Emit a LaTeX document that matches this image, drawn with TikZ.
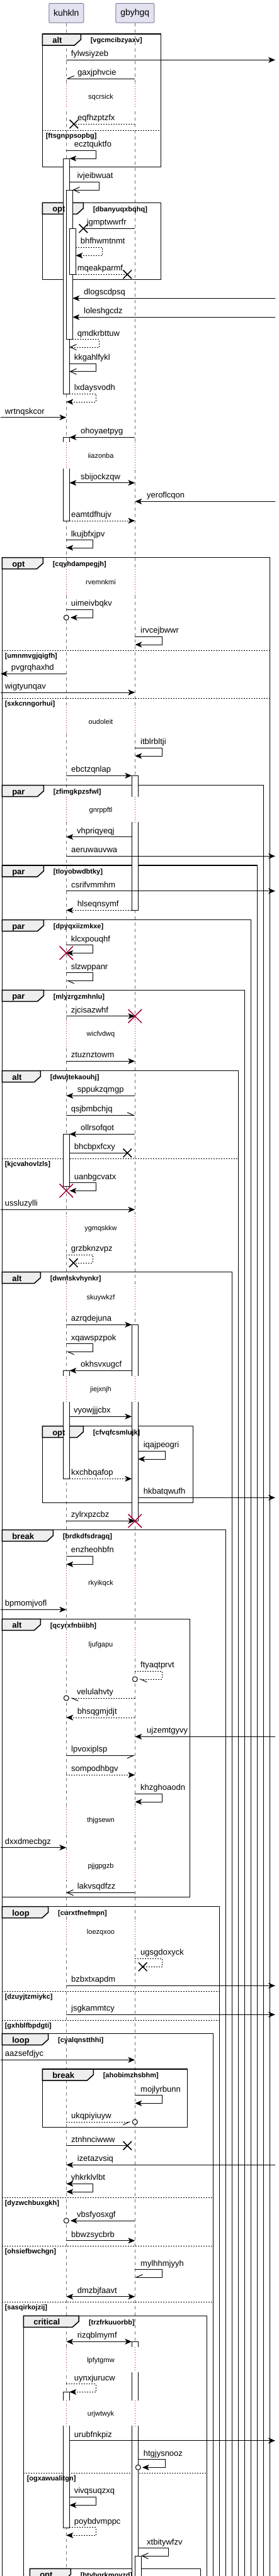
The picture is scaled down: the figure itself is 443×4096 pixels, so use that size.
\documentclass[tikz,border=0pt]{standalone}
\usepackage{fontspec}
\setmainfont{Liberation Sans}
\usetikzlibrary{arrows.meta,shapes.misc}
\definecolor{partfill}{HTML}{E2E2F0}
\definecolor{partline}{HTML}{7C7C94}
\definecolor{lifegray}{HTML}{707070}
\definecolor{delayred}{HTML}{A80036}
\definecolor{tabgray}{HTML}{EEEEEE}
\begin{document}
\begin{tikzpicture}[
        x=1pt, y=-1pt, line width=1pt,
        part/.style={rectangle, draw=partline, fill=partfill, rounded corners=2pt, minimum height=30.7pt, inner sep=0pt, font=\fontsize{14}{16}\selectfont},
        life/.style={draw=lifegray, dash pattern=on 5pt off 5pt},
        act/.style={draw, fill=white},
        delayline/.style={draw=delayred, dash pattern=on 1pt off 3pt, preaction={draw=white, solid, line width=12pt}},
        frm/.style={draw, line width=1.5pt},
        tabshape/.style={draw, fill=tabgray, line width=1.5pt},
        els/.style={dash pattern=on 2pt off 2pt},
        kw/.style={font=\bfseries\fontsize{13}{15}\selectfont, anchor=base west, inner sep=0pt},
        grd/.style={font=\bfseries\fontsize{11}{13}\selectfont, anchor=base west, inner sep=0pt},
        lbl/.style={font=\fontsize{13}{15}\selectfont, anchor=base west, inner sep=0pt},
        dly/.style={font=\fontsize{11}{13}\selectfont, inner sep=0pt},
        sync/.style={-{Stealth[length=11pt, width=9pt, inset=3pt]}},
        twoway/.style={{Stealth[length=11pt, width=9pt, inset=3pt]}-{Stealth[length=11pt, width=9pt, inset=3pt]}},
        opn/.style={-{Straight Barb[length=10pt, width=9pt]}},
        halfleft/.style={-{Straight Barb[left, length=10pt, width=9pt]}},
        halfright/.style={-{Straight Barb[right, length=10pt, width=9pt]}},
        ret/.style={dash pattern=on 2pt off 2pt},
        lost/.style={cross out, draw, minimum size=12pt, inner sep=0pt, line width=1.5pt},
        kill/.style={cross out, draw=delayred, minimum size=20pt, inner sep=0pt, line width=1.5pt},
        endo/.style={circle, draw, fill=white, minimum size=8pt, inner sep=0pt}
    ]
        \useasboundingbox (0,0) rectangle (443,4096);
        \clip (0,0) rectangle (443,4096);

        % Participants
        \node[part, minimum width=55pt] (kuhkln) at (105.3,20.7) {kuhkln};
        \node[part, minimum width=61pt] (gbyhgq) at (214.3,20.7) {gbyhgq};
        \coordinate (K) at (105.3,0);
        \coordinate (Ka) at (110.3,0);
        \coordinate (Kb) at (115.3,0);
        \coordinate (Kc) at (120.3,0);
        \coordinate (G) at (214.3,0);
        \coordinate (Ga) at (209.3,0);
        \coordinate (Gb) at (219.3,0);
        \coordinate (Gc) at (224.3,0);
        \coordinate (L) at (1,0);
        \coordinate (R) at (437,0);

        % Lifelines
        \draw[life] (kuhkln.south) -- (kuhkln.south |- 0,4096);
        \draw[life] (gbyhgq.south) -- (gbyhgq.south |- 0,4096);

        % Frames
        \draw[frm] (67.3,54) rectangle (255.7,265.7);
        \draw[tabshape] (67.3,54) -- (128.3,54) -- (128.3,63) -- (118.3,72) -- (67.3,72) -- cycle;
        \draw[els] (67.3,207) -- (255.7,207);
        \draw[frm] (67.3,322.3) rectangle (255.7,444.7);
        \draw[tabshape] (67.3,322.3) -- (132.3,322.3) -- (132.3,331.3) -- (122.3,340.3) -- (67.3,340.3) -- cycle;
        \draw[frm] (3.3,886.7) rectangle (428.3,4120);
        \draw[tabshape] (3.3,886.7) -- (68.3,886.7) -- (68.3,895.7) -- (58.3,904.7) -- (3.3,904.7) -- cycle;
        \draw[els] (3.3,1034.3) -- (428.3,1034.3);
        \draw[els] (3.3,1110) -- (428.3,1110);
        \draw[frm] (3.3,1248.7) rectangle (418.3,4120);
        \draw[tabshape] (3.3,1248.7) -- (69.3,1248.7) -- (69.3,1257.7) -- (59.3,1266.7) -- (3.3,1266.7) -- cycle;
        \draw[frm] (3.3,1376) rectangle (408.3,4120);
        \draw[tabshape] (3.3,1376) -- (69.3,1376) -- (69.3,1385) -- (59.3,1394) -- (3.3,1394) -- cycle;
        \draw[frm] (3.3,1462.7) rectangle (398.3,4120);
        \draw[tabshape] (3.3,1462.7) -- (69.3,1462.7) -- (69.3,1471.7) -- (59.3,1480.7) -- (3.3,1480.7) -- cycle;
        \draw[frm] (3.3,1574.3) rectangle (388.3,4120);
        \draw[tabshape] (3.3,1574.3) -- (69.3,1574.3) -- (69.3,1583.3) -- (59.3,1592.3) -- (3.3,1592.3) -- cycle;
        \draw[frm] (3.3,1702.7) rectangle (378.3,4120);
        \draw[tabshape] (3.3,1702.7) -- (64.3,1702.7) -- (64.3,1711.7) -- (54.3,1720.7) -- (3.3,1720.7) -- cycle;
        \draw[els] (3.3,1842.3) -- (378.3,1842.3);
        \draw[frm] (3.3,2022.7) rectangle (368.3,4120);
        \draw[tabshape] (3.3,2022.7) -- (64.3,2022.7) -- (64.3,2031.7) -- (54.3,2040.7) -- (3.3,2040.7) -- cycle;
        \draw[frm] (67.3,2267.7) rectangle (306.7,2389.3);
        \draw[tabshape] (67.3,2267.7) -- (132.3,2267.7) -- (132.3,2276.7) -- (122.3,2285.7) -- (67.3,2285.7) -- cycle;
        \draw[frm] (3.3,2432.7) rectangle (358.3,4120);
        \draw[tabshape] (3.3,2432.7) -- (84.3,2432.7) -- (84.3,2441.7) -- (74.3,2450.7) -- (3.3,2450.7) -- cycle;
        \draw[frm] (3.3,2574.3) rectangle (301.7,3016.7);
        \draw[tabshape] (3.3,2574.3) -- (64.3,2574.3) -- (64.3,2583.3) -- (54.3,2592.3) -- (3.3,2592.3) -- cycle;
        \draw[frm] (3.3,3031.7) rectangle (348.3,4120);
        \draw[tabshape] (3.3,3031.7) -- (76.7,3031.7) -- (76.7,3040.7) -- (66.7,3049.7) -- (3.3,3049.7) -- cycle;
        \draw[els] (3.3,3166.3) -- (348.3,3166.3);
        \draw[els] (3.3,3212.3) -- (348.3,3212.3);
        \draw[frm] (3.3,3233.7) rectangle (338.3,4120);
        \draw[tabshape] (3.3,3233.7) -- (76.7,3233.7) -- (76.7,3242.7) -- (66.7,3251.7) -- (3.3,3251.7) -- cycle;
        \draw[frm] (67.3,3290) rectangle (297.7,3382.3);
        \draw[tabshape] (67.3,3290) -- (148.3,3290) -- (148.3,3299) -- (138.3,3308) -- (67.3,3308) -- cycle;
        \draw[els] (3.3,3494.3) -- (338.3,3494.3);
        \draw[els] (3.3,3571.3) -- (338.3,3571.3);
        \draw[els] (3.3,3660.3) -- (338.3,3660.3);
        \draw[frm] (37.3,3682.3) rectangle (328.3,4120);
        \draw[tabshape] (37.3,3682.3) -- (125,3682.3) -- (125,3691.3) -- (115,3700.3) -- (37.3,3700.3) -- cycle;
        \draw[els] (37.3,3932.3) -- (328.3,3932.3);
        \draw[frm] (47.3,4084.3) rectangle (318.3,4120);
        \draw[tabshape] (47.3,4084.3) -- (112.3,4084.3) -- (112.3,4093.3) -- (102.3,4102.3) -- (47.3,4102.3) -- cycle;

        % Activations
        \draw[act] (100.3,252) rectangle (110.3,626.7);
        \draw[act] (105.3,302) rectangle (115.3,539.7);
        \draw[act] (110.3,363.3) rectangle (120.3,436.3);
        \draw[act] (100.3,695.3) rectangle (110.3,828);
        \draw[act] (209.3,1233.3) rectangle (219.3,1447.3);
        \draw[act] (100.3,1803.3) rectangle (110.3,1886.7);
        \draw[act] (209.3,2106.3) rectangle (219.3,2418.3);
        \draw[act] (100.3,2179.3) rectangle (110.3,2351.3);
        \draw[act] (209.3,3723.3) rectangle (219.3,4120);
        \draw[act] (100.3,3803.3) rectangle (110.3,4019.3);
        \draw[act] (214.3,4064) rectangle (224.3,4120);

        % Delays
        \draw[delayline] (K |- 0,133) -- (K |- 0,173) (G |- 0,133) -- (G |- 0,173);
        \node[dly] (sqcrsick) at (160,155) {sqcrsick};
        \draw[delayline] (K |- 0,703) -- (K |- 0,745) (G |- 0,703) -- (G |- 0,745);
        \node[dly] (iiazonba) at (160,725) {iiazonba};
        \draw[delayline] (K |- 0,905) -- (K |- 0,946.7) (G |- 0,905) -- (G |- 0,946.7);
        \node[dly] (rvemnkmi) at (160,926) {rvemnkmi};
        \draw[delayline] (K |- 0,1125) -- (K |- 0,1166.7) (G |- 0,1125) -- (G |- 0,1166.7);
        \node[dly] (oudoleit) at (160,1147.3) {oudoleit};
        \draw[delayline] (K |- 0,1266.7) -- (K |- 0,1307.3) (G |- 0,1266.7) -- (G |- 0,1307.3);
        \node[dly] (gnrppftl) at (160,1288.3) {gnrppftl};
        \draw[delayline] (K |- 0,1623) -- (K |- 0,1665) (G |- 0,1623) -- (G |- 0,1665);
        \node[dly] (wicfvdwq) at (160,1644.3) {wicfvdwq};
        \draw[delayline] (K |- 0,1930) -- (K |- 0,1976.7) (G |- 0,1930) -- (G |- 0,1976.7);
        \node[dly] (ygmqskkw) at (160,1953.3) {ygmqskkw};
        \draw[delayline] (K |- 0,2041) -- (K |- 0,2083.3) (G |- 0,2041) -- (G |- 0,2083.3);
        \node[dly] (skuywkzf) at (160,2063.3) {skuywkzf};
        \draw[delayline] (K |- 0,2187.7) -- (K |- 0,2229.3) (G |- 0,2187.7) -- (G |- 0,2229.3);
        \node[dly] (jiejxnjh) at (160,2209.3) {jiejxnjh};
        \draw[delayline] (K |- 0,2493) -- (K |- 0,2540) (G |- 0,2493) -- (G |- 0,2540);
        \node[dly] (rkyikqck) at (160,2517.3) {rkyikqck};
        \draw[delayline] (K |- 0,2595) -- (K |- 0,2635) (G |- 0,2595) -- (G |- 0,2635);
        \node[dly] (ljufgapu) at (160,2615.3) {ljufgapu};
        \draw[delayline] (K |- 0,2873) -- (K |- 0,2916.7) (G |- 0,2873) -- (G |- 0,2916.7);
        \node[dly] (thjgsewn) at (160,2895) {thjgsewn};
        \draw[delayline] (K |- 0,2945) -- (K |- 0,2990) (G |- 0,2945) -- (G |- 0,2990);
        \node[dly] (pjjgpgzb) at (160,2967.3) {pjjgpgzb};
        \draw[delayline] (K |- 0,3051) -- (K |- 0,3090) (G |- 0,3051) -- (G |- 0,3090);
        \node[dly] (loezqxoo) at (160,3072.3) {loezqxoo};
        \draw[delayline] (K |- 0,3731.7) -- (K |- 0,3771.7) (G |- 0,3731.7) -- (G |- 0,3771.7);
        \node[dly] (lpfytgmw) at (160,3753.3) {lpfytgmw};
        \draw[delayline] (K |- 0,3816.7) -- (K |- 0,3857.3) (G |- 0,3816.7) -- (G |- 0,3857.3);
        \node[dly] (urjwtwyk) at (160,3838.3) {urjwtwyk};

        % Frame labels
        \node[kw] (alt1) at (82.8,68.3) {alt};
        \node[grd] (vgcmcibzyaxv) at (143.3,67.7) {[vgcmcibzyaxv]};
        \node[grd] (ftsgnppsopbg) at (72.3,219) {[ftsgnppsopbg]};
        \node[kw] (opt1) at (82.8,336.6) {opt};
        \node[grd] (dbanyuqxbqhq) at (147.3,336) {[dbanyuqxbqhq]};
        \node[kw] (opt2) at (18.8,901) {opt};
        \node[grd] (cqyhdampegjh) at (83.3,900.4) {[cqyhdampegjh]};
        \node[grd] (umnmvgjqigfh) at (7.3,1046.3) {[umnmvgjqigfh]};
        \node[grd] (sxkcnngorhui) at (7.3,1122) {[sxkcnngorhui]};
        \node[kw] (par1) at (18.8,1263) {par};
        \node[grd] (zfimgkpzsfwl) at (84.3,1262.4) {[zfimgkpzsfwl]};
        \node[kw] (par2) at (18.8,1390.3) {par};
        \node[grd] (tloyobwdbtky) at (84.3,1389.7) {[tloyobwdbtky]};
        \node[kw] (par3) at (18.8,1477) {par};
        \node[grd] (dpyqxiizmkxe) at (84.3,1476.4) {[dpyqxiizmkxe]};
        \node[kw] (par4) at (18.8,1588.6) {par};
        \node[grd] (mlyzrgzmhnlu) at (84.3,1588) {[mlyzrgzmhnlu]};
        \node[kw] (alt2) at (18.8,1717) {alt};
        \node[grd] (dwujtekaouhj) at (79.3,1716.4) {[dwujtekaouhj]};
        \node[grd] (kjcvahovlzls) at (7.3,1854.3) {[kjcvahovlzls]};
        \node[kw] (alt3) at (18.8,2037) {alt};
        \node[grd] (dwnlskvhynkr) at (79.3,2036.4) {[dwnlskvhynkr]};
        \node[kw] (opt3) at (82.8,2282) {opt};
        \node[grd] (cfvqfcsmlujk) at (147.3,2281.4) {[cfvqfcsmlujk]};
        \node[kw] (break1) at (18.8,2447) {break};
        \node[grd] (brdkdfsdragq) at (99.3,2446.4) {[brdkdfsdragq]};
        \node[kw] (alt4) at (18.8,2588.6) {alt};
        \node[grd] (qcyrxfnbiibh) at (79.3,2588) {[qcyrxfnbiibh]};
        \node[kw] (loop1) at (18.8,3046) {loop};
        \node[grd] (curxtfnefmpn) at (91.7,3045.4) {[curxtfnefmpn]};
        \node[grd] (dzuyjtzmiykc) at (7.3,3178.3) {[dzuyjtzmiykc]};
        \node[grd] (gxhblfbpdgti) at (7.3,3224.3) {[gxhblfbpdgti]};
        \node[kw] (loop2) at (18.8,3248) {loop};
        \node[grd] (cyalqnstthhi) at (91.7,3247.4) {[cyalqnstthhi]};
        \node[kw] (break2) at (82.8,3304.3) {break};
        \node[grd] (ahobimzhsbhm) at (163.3,3303.7) {[ahobimzhsbhm]};
        \node[grd] (dyzwchbuxgkh) at (7.3,3506.3) {[dyzwchbuxgkh]};
        \node[grd] (ohsiefbwchgn) at (7.3,3583.3) {[ohsiefbwchgn]};
        \node[grd] (sasqirkojzij) at (7.3,3672.3) {[sasqirkojzij]};
        \node[kw] (critical1) at (52.8,3696.6) {critical};
        \node[grd] (trzfrkuuorbb) at (140.5,3696) {[trzfrkuuorbb]};
        \node[grd] (ogxawualitgn) at (42.3,3944.3) {[ogxawualitgn]};
        \node[kw] (opt4) at (62.8,4098.6) {opt};
        \node[grd] (btybqrkmoyzd) at (127.3,4098) {[btybqrkmoyzd]};

        % Messages
        \draw[sync] (K |- 0,95.3) -- (R |- 0,95.3);
        \node[lbl] (fylwsiyzeb) at (112.3,89.8) {fylwsiyzeb};
        \draw[halfright] (G |- 0,125) -- (K |- 0,125);
        \node[lbl] (gaxjphvcie) at (122.7,119.5) {gaxjphvcie};
        \node[lost] (x1) at (117.3,197.3) {};
        \draw[ret] (G |- 0,197.3) -- (x1.center);
        \node[lbl] (eqfhzptzfx) at (122.7,191.8) {eqfhzptzfx};
        \draw[sync] (K |- 0,239) -| (152.3,252) -- (Ka |- 0,252);
        \node[lbl] (ecztquktfo) at (117.3,233.5) {ecztquktfo};
        \draw[opn] (Ka |- 0,289.3) -| (157.3,302) -- (Kb |- 0,302);
        \node[lbl] (ivjeibwuat) at (122,283.8) {ivjeibwuat};
        \node[lost] (x2) at (132.3,363.3) {};
        \draw (G |- 0,363.3) -- (x2.center);
        \node[lbl] (jgmptwwrfr) at (137.3,357.8) {jgmptwwrfr};
        \draw[sync, ret] (Kc |- 0,393.3) -| (162.7,406.3) -- (Kc |- 0,406.3);
        \node[lbl] (bhfhwmtnmt) at (127.3,387.8) {bhfhwmtnmt};
        \node[lost] (x3) at (202.3,436.3) {};
        \draw[ret] (Kc |- 0,436.3) -- (x3.center);
        \node[lbl] (mqeakparmf) at (122.3,430.8) {mqeakparmf};
        \draw[sync] (R |- 0,474.3) -- (Kb |- 0,474.3);
        \node[lbl] (dlogscdpsq) at (132.7,468.8) {dlogscdpsq};
        \draw[sync] (R |- 0,504.3) -- (Kb |- 0,504.3);
        \node[lbl] (loleshgcdz) at (132.7,498.8) {loleshgcdz};
        \draw[opn, ret] (Kb |- 0,539.7) -| (157.3,552) -- (Ka |- 0,552);
        \node[lbl] (qmdkrbttuw) at (122.3,534.2) {qmdkrbttuw};
        \draw[opn] (Ka |- 0,578.3) -| (152.3,590.7) -- (Ka |- 0,590.7);
        \node[lbl] (kkgahlfykl) at (117.3,572.8) {kkgahlfykl};
        \draw[sync, ret] (Ka |- 0,626) -| (152.3,639) -- (K |- 0,639);
        \node[lbl] (lxdaysvodh) at (117.3,620.5) {lxdaysvodh};
        \draw[sync] (L |- 0,663.7) -- (K |- 0,663.7);
        \node[lbl] (wrtnqskcor) at (7.3,658.2) {wrtnqskcor};
        \draw[sync] (G |- 0,695.3) -- (Ka |- 0,695.3);
        \node[lbl] (ohoyaetpyg) at (127.7,689.8) {ohoyaetpyg};
        \draw[twoway] (Ka |- 0,767.7) -- (G |- 0,767.7);
        \node[lbl] (sbijockzqw) at (127.7,762.2) {sbijockzqw};
        \draw[sync] (R |- 0,797.3) -- (G |- 0,797.3);
        \node[lbl] (yeroflcqon) at (232.7,791.8) {yeroflcqon};
        \draw[sync, ret] (Ka |- 0,828) -- (G |- 0,828);
        \node[lbl] (eamtdfhujv) at (112.7,822.5) {eamtdfhujv};
        \draw[sync] (K |- 0,858.7) -| (147.3,871) -- (K |- 0,871);
        \node[lbl] (lkujbfxjpv) at (112.3,853.2) {lkujbfxjpv};

        % opt cqyhdampegjh
        \node[endo] (o1) at (K |- 0,982) {};
        \draw[sync] (K |- 0,969.3) -| (147.3,982) -- ([xshift=2pt]o1.east);
        \node[lbl] (uimeivbqkv) at (112.3,963.8) {uimeivbqkv};
        \draw[sync] (G |- 0,1012.3) -| (257.3,1025) -- (G |- 0,1025);
        \node[lbl] (irvcejbwwr) at (222.7,1006.8) {irvcejbwwr};
        \draw[sync] (K |- 0,1071.3) -- (L |- 0,1071.3);
        \node[lbl] (pvgrqhaxhd) at (17.3,1065.8) {pvgrqhaxhd};
        \draw[sync] (L |- 0,1101) -- (G |- 0,1101);
        \node[lbl] (wigtyunqav) at (7.3,1095.5) {wigtyunqav};
        \draw[sync] (G |- 0,1189.3) -| (257.3,1202) -- (G |- 0,1202);
        \node[lbl] (itblrbltji) at (222.7,1183.8) {itblrbltji};
        \draw[sync] (K |- 0,1233.3) -- (Ga |- 0,1233.3);
        \node[lbl] (ebctzqnlap) at (112.7,1227.8) {ebctzqnlap};

        % par blocks
        \draw[sync] (Ga |- 0,1330.7) -- (K |- 0,1330.7);
        \node[lbl] (vhpriqyeqj) at (121.7,1325.2) {vhpriqyeqj};
        \draw[sync] (K |- 0,1361.3) -- (R |- 0,1361.3);
        \node[lbl] (aeruwauvwa) at (112.7,1355.8) {aeruwauvwa};
        \draw[sync] (K |- 0,1416.7) -- (R |- 0,1416.7);
        \node[lbl] (csrifvmmhm) at (112.7,1411.2) {csrifvmmhm};
        \draw[sync, ret] (Ga |- 0,1447.3) -- (K |- 0,1447.3);
        \node[lbl] (hlseqnsymf) at (122.3,1441.8) {hlseqnsymf};
        \draw[sync] (K |- 0,1502.7) -| (147.3,1515.3) -- (K |- 0,1515.3);
        \node[kill] (k1) at (K |- 0,1515.3) {};
        \node[lbl] (klcxpouqhf) at (112.3,1497.2) {klcxpouqhf};
        \draw[halfleft] (K |- 0,1546.7) -| (147.3,1559.3) -- (K |- 0,1559.3);
        \node[lbl] (slzwppanr) at (112.3,1541.2) {slzwppanr};
        \draw[sync] (K |- 0,1615.7) -- (G |- 0,1615.7);
        \node[kill] (k2) at (G |- 0,1615.7) {};
        \node[lbl] (zjcisazwhf) at (112.3,1610.2) {zjcisazwhf};
        \draw[sync] (K |- 0,1687.3) -- (G |- 0,1687.3);
        \node[lbl] (ztuznztowm) at (112.3,1681.8) {ztuznztowm};

        % alt dwujtekaouhj
        \draw[sync] (G |- 0,1742.3) -- (K |- 0,1742.3);
        \node[lbl] (sppukzqmgp) at (122.3,1736.8) {sppukzqmgp};
        \draw[halfleft] (K |- 0,1773.3) -- (G |- 0,1773.3);
        \node[lbl] (qsjbmbchjq) at (112.3,1767.8) {qsjbmbchjq};
        \draw[sync] (G |- 0,1803.3) -- (Ka |- 0,1803.3);
        \node[lbl] (ollrsofqot) at (127.7,1797.8) {ollrsofqot};
        \node[lost] (x4) at (202.3,1833.3) {};
        \draw (Ka |- 0,1833.3) -- (x4.center);
        \node[lbl] (bhcbpxfcxy) at (117.3,1827.8) {bhcbpxfcxy};
        \draw[sync] (Ka |- 0,1880.7) -| (152.3,1893.3) -- (Ka |- 0,1893.3);
        \node[kill] (k3) at (K |- 0,1893.3) {};
        \node[lbl] (uanbgcvatx) at (117.3,1875.2) {uanbgcvatx};
        \draw[sync] (L |- 0,1923.3) -- (G |- 0,1923.3);
        \node[lbl] (ussluzylli) at (7.3,1917.8) {ussluzylli};
        \node[lost] (x5) at (116.7,2008) {};
        \draw[ret] (K |- 0,1995.3) -| (147.3,2008) -- (x5.center);
        \node[lbl] (grzbknzvpz) at (112.3,1989.8) {grzbknzvpz};

        % alt dwnlskvhynkr
        \draw[sync] (K |- 0,2106.3) -- (Ga |- 0,2106.3);
        \node[lbl] (azrqdejuna) at (112.3,2100.8) {azrqdejuna};
        \draw[halfleft] (K |- 0,2136.7) -| (147.3,2149.3) -- (K |- 0,2149.3);
        \node[lbl] (xqawspzpok) at (112.3,2131.2) {xqawspzpok};
        \draw[sync] (Ga |- 0,2179.3) -- (Ka |- 0,2179.3);
        \node[lbl] (okhsvxugcf) at (127.7,2173.8) {okhsvxugcf};
        \draw[sync] (Ka |- 0,2252.3) -- (Ga |- 0,2252.3);
        \node[lbl] (vyowjjjcbx) at (116.7,2246.8) {vyowjjjcbx};
        \draw[sync] (Gb |- 0,2307.3) -| (262.3,2320) -- (Gb |- 0,2320);
        \node[lbl] (iqajpeogri) at (227.3,2301.8) {iqajpeogri};
        \draw[sync, ret] (Ka |- 0,2351.3) -- (Ga |- 0,2351.3);
        \node[lbl] (kxchbqafop) at (112.7,2345.8) {kxchbqafop};
        \draw[sync] (Gb |- 0,2381.3) -- (R |- 0,2381.3);
        \node[lbl] (hkbatqwufh) at (227.3,2375.8) {hkbatqwufh};
        \draw[sync] (K |- 0,2418.3) -- (G |- 0,2418.3);
        \node[kill] (k4) at (G |- 0,2418.3) {};
        \node[lbl] (zylrxpzcbz) at (112.3,2412.8) {zylrxpzcbz};

        % break brdkdfsdragq
        \draw[sync] (K |- 0,2474.3) -| (147.3,2487.3) -- (K |- 0,2487.3);
        \node[lbl] (enzheohbfn) at (112.3,2468.8) {enzheohbfn};
        \draw[sync] (L |- 0,2559.3) -- (K |- 0,2559.3);
        \node[lbl] (bpmomjvofl) at (7.3,2553.8) {bpmomjvofl};
        \node[endo] (o2) at (G |- 0,2670) {};
        \draw[halfleft, ret] (G |- 0,2657.3) -| (257.3,2670) -- ([xshift=2pt]o2.east);
        \node[lbl] (ftyaqtprvt) at (222.7,2651.8) {ftyaqtprvt};
        \node[endo] (o3) at (K |- 0,2700) {};
        \draw[halfleft, ret] (G |- 0,2700) -- ([xshift=2pt]o3.east);
        \node[lbl] (velulahvty) at (121.7,2694.5) {velulahvty};
        \draw[sync, ret] (G |- 0,2731) -- (K |- 0,2731);
        \node[lbl] (bhsqgmjdjt) at (122.3,2725.5) {bhsqgmjdjt};
        \draw[sync] (R |- 0,2761.3) -- (G |- 0,2761.3);
        \node[lbl] (ujzemtgyvy) at (232.7,2755.8) {ujzemtgyvy};
        \draw[halfright] (K |- 0,2791.3) -- (G |- 0,2791.3);
        \node[lbl] (lpvoxiplsp) at (112.7,2785.8) {lpvoxiplsp};
        \draw[sync, ret] (K |- 0,2822.3) -- (G |- 0,2822.3);
        \node[lbl] (sompodhbgv) at (112.7,2816.8) {sompodhbgv};
        \draw[sync] (G |- 0,2852.3) -| (257.3,2865) -- (G |- 0,2865);
        \node[lbl] (khzghoaodn) at (222.7,2846.8) {khzghoaodn};
        \draw[sync] (L |- 0,2937.7) -- (K |- 0,2937.7);
        \node[lbl] (dxxdmecbgz) at (7.3,2932.2) {dxxdmecbgz};
        \draw[opn] (G |- 0,3009.3) -- (K |- 0,3009.3);
        \node[lbl] (lakvsqdfzz) at (122.3,3003.8) {lakvsqdfzz};

        % loop curxtfnefmpn
        \node[lost] (x6) at (226.7,3127.3) {};
        \draw[ret] (G |- 0,3114) -| (257.3,3127.3) -- (x6.center);
        \node[lbl] (ugsgdoxyck) at (222.7,3108.5) {ugsgdoxyck};
        \draw[sync] (K |- 0,3157.3) -- (R |- 0,3157.3);
        \node[lbl] (bzbxtxapdm) at (112.7,3151.8) {bzbxtxapdm};
        \draw[sync] (K |- 0,3203.3) -- (R |- 0,3203.3);
        \node[lbl] (jsgkammtcy) at (112.7,3197.8) {jsgkammtcy};

        % loop cyalqnstthhi
        \draw[sync] (L |- 0,3275.3) -- (G |- 0,3275.3);
        \node[lbl] (aazsefdjyc) at (7.3,3269.8) {aazsefdjyc};
        \draw[sync] (G |- 0,3331.7) -| (257.3,3344.3) -- (G |- 0,3344.3);
        \node[lbl] (mojlyrbunn) at (222.7,3326.2) {mojlyrbunn};
        \node[endo] (o4) at (G |- 0,3374) {};
        \draw[halfright, ret] (K |- 0,3374) -- ([xshift=-2pt]o4.west);
        \node[lbl] (ukqpiyiuyw) at (112.7,3368.5) {ukqpiyiuyw};
        \node[lost] (x7) at (202.3,3411.7) {};
        \draw (K |- 0,3411.7) -- (x7.center);
        \node[lbl] (ztnhnciwww) at (112.7,3406.2) {ztnhnciwww};
        \draw[sync] (R |- 0,3442.3) -- (K |- 0,3442.3);
        \node[lbl] (izetazvsiq) at (122.3,3436.8) {izetazvsiq};
        \draw[twoway] (K |- 0,3472.3) -| (147.3,3485) -- (K |- 0,3485);
        \node[lbl] (yhkrklvlbt) at (112.3,3466.8) {yhkrklvlbt};
        \node[endo] (o5) at (K |- 0,3531) {};
        \draw[sync] (G |- 0,3531) -- ([xshift=2pt]o5.east);
        \node[lbl] (vbsfyosxgf) at (121.7,3525.5) {vbsfyosxgf};
        \draw[sync] (K |- 0,3562.7) -- (G |- 0,3562.7);
        \node[lbl] (bbwzsycbrb) at (112.7,3557.2) {bbwzsycbrb};
        \draw[halfright] (G |- 0,3608.7) -| (257.3,3621) -- (G |- 0,3621);
        \node[lbl] (mylhhmjyyh) at (222.7,3603.2) {mylhhmjyyh};
        \draw[twoway] (K |- 0,3651.7) -- (G |- 0,3651.7);
        \node[lbl] (dmzbjfaavt) at (122.3,3646.2) {dmzbjfaavt};

        % critical trzfrkuuorbb
        \draw[twoway] (K |- 0,3723.3) -- (Ga |- 0,3723.3);
        \node[lbl] (rizqblmymf) at (122.3,3717.8) {rizqblmymf};
        \draw[sync, ret] (K |- 0,3790.7) -| (152.3,3803.3) -- (Ka |- 0,3803.3);
        \node[lbl] (uynxjurucw) at (117.3,3785.2) {uynxjurucw};
        \draw[sync] (Ka |- 0,3880.7) -- (R |- 0,3880.7);
        \node[lbl] (urubfnkpiz) at (117.3,3875.2) {urubfnkpiz};
        \node[endo] (o6) at (Gb |- 0,3923.3) {};
        \draw[sync] (Gb |- 0,3910.7) -| (262.3,3923.3) -- ([xshift=2pt]o6.east);
        \node[lbl] (htgjysnooz) at (227.3,3905.2) {htgjysnooz};
        \draw[sync] (Ka |- 0,3970.3) -| (152.3,3983.3) -- (Ka |- 0,3983.3);
        \node[lbl] (vivqsuqzxq) at (117.3,3964.8) {vivqsuqzxq};
        \draw[sync, ret] (Ka |- 0,4018.7) -| (152.3,4031.3) -- (K |- 0,4031.3);
        \node[lbl] (poybdvmppc) at (117.3,4013.2) {poybdvmppc};
        \draw[opn] (Gb |- 0,4051.7) -| (267.3,4064) -- (Gc |- 0,4064);
        \node[lbl] (xtbitywfzv) at (232.7,4046.2) {xtbitywfzv};
    \end{tikzpicture}
\end{document}
